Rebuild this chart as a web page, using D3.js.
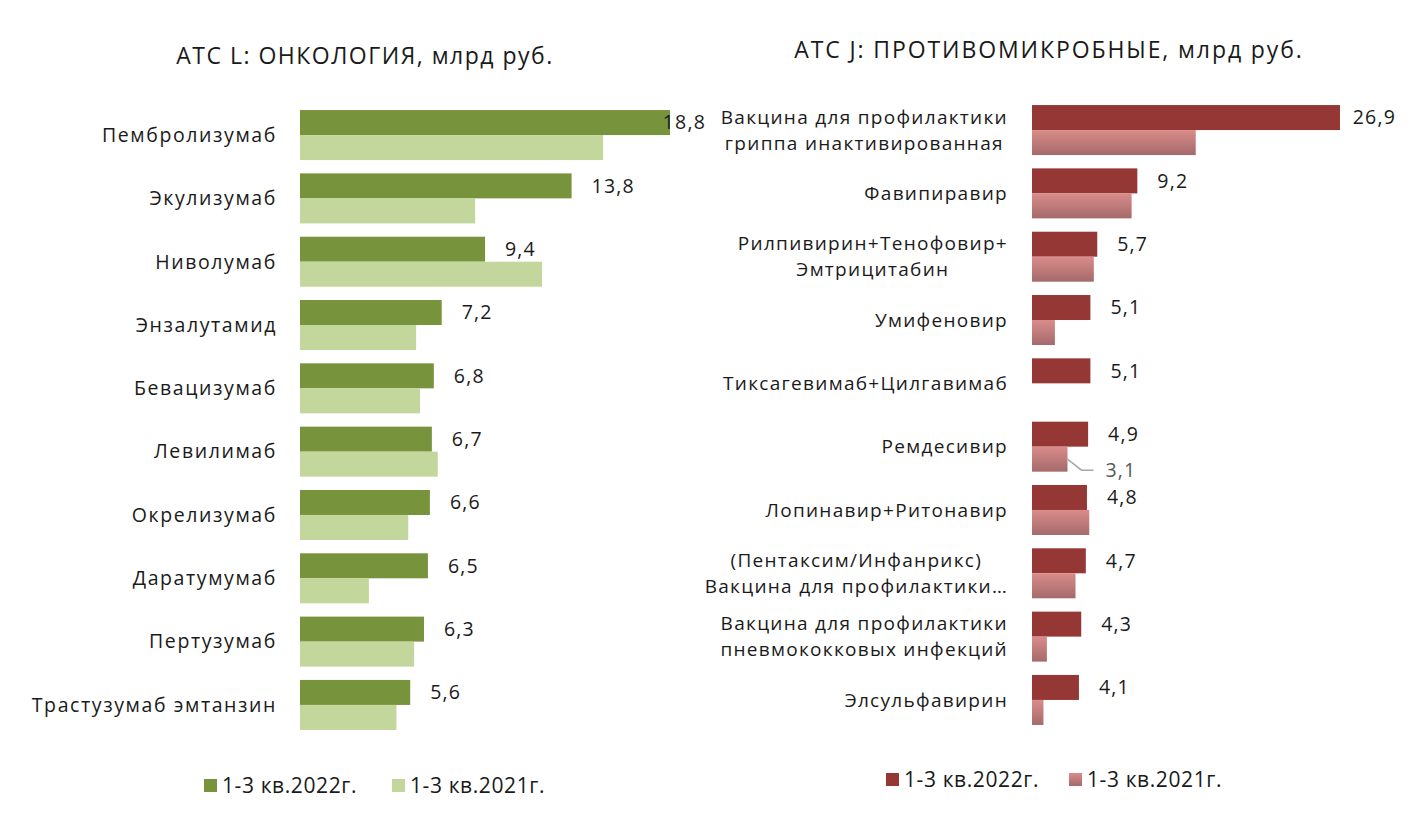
<!DOCTYPE html>
<html>
<head>
<meta charset="utf-8">
<script src="https://d3js.org/d3.v7.min.js"></script>
<style>
  body { margin: 0; background: #fff; }
  text { font-family: "Open Sans", "Noto Sans", sans-serif; fill: #1a1a1a; }
</style>
</head>
<body>
<div id="chart"></div>
<script>
// Series labels
const seriesNames = ["1-3 кв.2022г.", "1-3 кв.2021г."];

// ATC L: oncology, bn rub
const oncoDrugs = [
    ["Пембролизумаб"], ["Экулизумаб"], ["Ниволумаб"], ["Энзалутамид"], ["Бевацизумаб"],
    ["Левилимаб"], ["Окрелизумаб"], ["Даратумумаб"], ["Пертузумаб"], ["Трастузумаб эмтанзин"]
];
const onco2022 = [18.8, 13.8, 9.4, 7.2, 6.8, 6.7, 6.6, 6.5, 6.3, 5.6];
const onco2021 = [15.4, 8.9, 12.3, 5.9, 6.1, 7.0, 5.5, 3.5, 5.8, 4.9];

// ATC J: antimicrobials, bn rub
const microDrugs = [
    ["Вакцина для профилактики", "гриппа инактивированная"],
    ["Фавипиравир"],
    ["Рилпивирин+Тенофовир+", "Эмтрицитабин"],
    ["Умифеновир"],
    ["Тиксагевимаб+Цилгавимаб"],
    ["Ремдесивир"],
    ["Лопинавир+Ритонавир"],
    ["(Пентаксим/Инфанрикс)", "Вакцина для профилактики…"],
    ["Вакцина для профилактики", "пневмококковых инфекций"],
    ["Элсульфавирин"]
];
const micro2022 = [26.9, 9.2, 5.7, 5.1, 5.1, 4.9, 4.8, 4.7, 4.3, 4.1];
const micro2021 = [14.3, 8.7, 5.4, 2.0, 0, 3.1, 5.0, 3.8, 1.3, 1.0];
// only this 2021 point carries a data label (with leader line)
const micro2021Labeled = ["Ремдесивир"];

const width = 1411, height = 818;
const fmt = v => String(v.toFixed(1)).replace(".", ",");

const svg = d3.select("#chart").append("svg")
    .attr("width", width)
    .attr("height", height);

const defs = svg.append("defs");
const grad = defs.append("linearGradient")
    .attr("id", "pinkGrad")
    .attr("x1", 0).attr("y1", 0).attr("x2", 0).attr("y2", 1);
grad.append("stop").attr("offset", "0%").attr("stop-color", "#d98c8b");
grad.append("stop").attr("offset", "100%").attr("stop-color", "#a56a6a");

function drawPanel(cfg) {
    const g = svg.append("g");
    const names = cfg.cats.map(c => c.join(" "));
    const rows = names.map((n, i) => ({ name: n, lines: cfg.cats[i], v22: cfg.v22[i], v21: cfg.v21[i] }));

    const x = d3.scaleLinear().domain(cfg.xDomain).range(cfg.xRange);
    const y = d3.scaleBand().domain(names).range(cfg.yRange).padding(0);
    const sub = d3.scaleBand().domain(["v22", "v21"]).range([-25, 25]);
    const mid = n => y(n) + y.bandwidth() / 2;

    const labelStyle = t => t.style("font-size", cfg.labelSize + "px")
        .style("letter-spacing", cfg.labelSpacing + "px");

    // title
    g.append("text")
        .attr("x", cfg.titleX).attr("y", cfg.titleY)
        .attr("text-anchor", "middle")
        .style("font-size", "23px")
        .style("letter-spacing", cfg.titleSpacing + "px")
        .text(cfg.title);

    // bars
    ["v22", "v21"].forEach((key, k) => {
        g.selectAll(".bar-" + key)
            .data(rows.filter(d => d[key] > 0))
            .join("rect")
            .attr("x", x(0))
            .attr("y", d => mid(d.name) + sub(key))
            .attr("width", d => x(d[key]) - x(0))
            .attr("height", sub.bandwidth())
            .attr("fill", cfg.colors[k]);
    });

    // category labels
    const lab = g.selectAll(".cat")
        .data(rows)
        .join("text")
        .attr("class", "cat")
        .call(labelStyle);
    lab.each(function (d) {
        const t = d3.select(this);
        if (d.lines.length === 1) {
            t.attr("x", cfg.labelRight).attr("y", mid(d.name))
                .attr("dy", "0.35em").attr("text-anchor", "end").text(d.lines[0]);
        } else {
            const spans = d.lines.map((ln, i) => t.append("tspan")
                .attr("y", mid(d.name) + (i - (d.lines.length - 1) / 2) * 26)
                .attr("dy", "0.35em")
                .text(ln));
            const w = d3.max(spans, s => s.node().getComputedTextLength());
            spans.forEach(s => s.attr("x", cfg.labelRight - w / 2));
            t.attr("text-anchor", "middle");
        }
    });

    // value labels for 2022
    g.selectAll(".val")
        .data(rows)
        .join("text")
        .attr("class", "val")
        .attr("y", d => mid(d.name) + sub("v22") + sub.bandwidth() / 2)
        .attr("dy", "0.35em")
        .style("font-size", "19.5px")
        .style("letter-spacing", "1.2px")
        .text(d => fmt(d.v22))
        .attr("x", function (d) {
            const w = this.getComputedTextLength();
            return Math.min(x(d.v22) + 20, cfg.plotRight - w);
        });

    // 2021 labels with leader line
    if (cfg.labeled21) {
        rows.filter(d => cfg.labeled21.includes(d.name)).forEach(d => {
            const bx = x(d.v21);
            const by = mid(d.name) + sub("v21") + sub.bandwidth() / 2;
            g.append("path")
                .attr("d", d3.line()([[bx, by], [bx + 14, by + 11], [bx + 26, by + 11]]))
                .attr("fill", "none")
                .attr("stroke", "#a6a6a6")
                .attr("stroke-width", 1.5);
            g.append("text")
                .attr("x", bx + 38).attr("y", by + 11)
                .attr("dy", "0.35em")
                .style("font-size", "19.5px")
                .style("letter-spacing", "1.2px")
                .style("fill", "#595959")
                .text(fmt(d.v21));
        });
    }

    // legend
    const leg = g.append("g");
    seriesNames.forEach((s, k) => {
        const lx = cfg.legendX[k];
        leg.append("rect")
            .attr("x", lx).attr("y", cfg.legendY - 7)
            .attr("width", 13).attr("height", 13)
            .attr("fill", cfg.colors[k]);
        leg.append("text")
            .attr("x", lx + 18).attr("y", cfg.legendY)
            .attr("dy", "0.35em")
            .style("font-size", "21px")
            .style("letter-spacing", "0.6px")
            .text(s);
    });
}

drawPanel({
    title: "АТС L: ОНКОЛОГИЯ, млрд руб.",
    titleX: 365, titleY: 64, titleSpacing: 1.5,
    cats: oncoDrugs, v22: onco2022, v21: onco2021,
    xDomain: [0, 20], xRange: [300, 693.6],
    yRange: [103.4, 736.6],
    labelRight: 277, plotRight: 706,
    labelSize: 19.5, labelSpacing: 1.6,
    colors: ["#77933c", "#c3d69b"],
    legendX: [204, 392], legendY: 786
});

drawPanel({
    title: "АТС J: ПРОТИВОМИКРОБНЫЕ, млрд руб.",
    titleX: 1049, titleY: 58, titleSpacing: 1.9,
    cats: microDrugs, v22: micro2022, v21: micro2021,
    labeled21: micro2021Labeled,
    xDomain: [0, 30], xRange: [1032, 1375.5],
    yRange: [98.4, 731.6],
    labelRight: 1008, plotRight: 1396,
    labelSize: 19, labelSpacing: 1.3,
    colors: ["#953735", "url(#pinkGrad)"],
    legendX: [886, 1069], legendY: 780
});
</script>
</body>
</html>
